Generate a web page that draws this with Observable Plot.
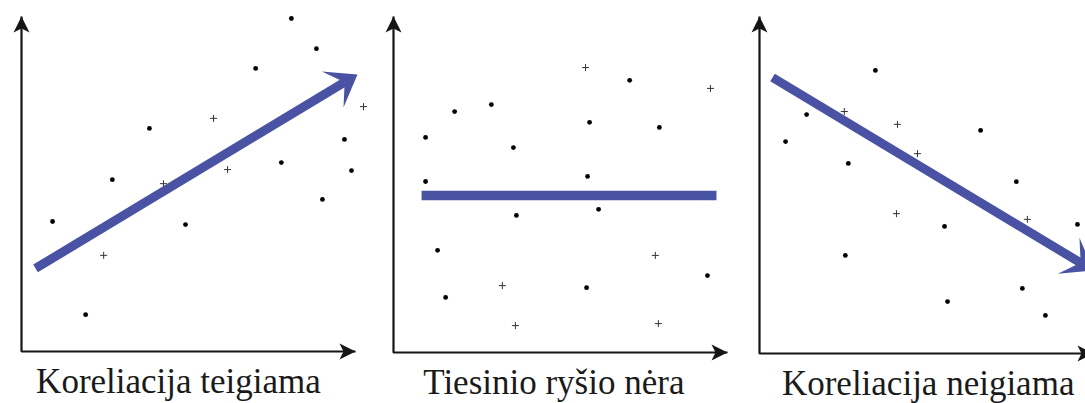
<!DOCTYPE html>
<html>
<head>
<meta charset="utf-8">
<script src="https://cdn.jsdelivr.net/npm/d3@7"></script>
<script src="https://cdn.jsdelivr.net/npm/@observablehq/plot@0.6"></script>
<style>
  html, body { margin: 0; padding: 0; background: #ffffff; }
  #chart { position: relative; width: 1085px; height: 403px; overflow: hidden; background: #fff; }
  #chart svg { position: absolute; top: 0; overflow: hidden; }
</style>
</head>
<body>
<div id="chart"></div>
<script>
// ---------- data (units: 0..100 along each axis, origin at the axes corner) ----------
const panelLabels = ["Koreliacija teigiama", "Tiesinio ryšio nėra", "Koreliacija neigiama"];
const labelX = [47, 48, 50.5];

// Panel 1: positive correlation
const dotsPositive = [
  [80.8, 99.4], [88.3, 90.4], [70.1, 84.5], [38.3, 66.6], [96.7, 63.3], [77.8, 56.4],
  [98.8, 54.0], [27.2, 51.3], [90.1, 45.4], [9.3, 38.8], [49.1, 37.9], [19.2, 11.0]
];
const crossesPositive = [[102.4, 73.1], [57.5, 69.6], [61.7, 54.3], [42.5, 50.1], [24.6, 28.7]];
const trendPositive = [4.2, 24.8, 100.6, 82.7];

// Panel 2: no linear relationship
const dotsNone = [
  [9.6, 64.0], [18.3, 71.7], [29.3, 73.8], [35.9, 61.0], [9.6, 50.9], [58.7, 68.5],
  [70.7, 81.0], [79.6, 67.0], [58.1, 52.4], [36.8, 40.8], [61.4, 42.6], [13.2, 30.4],
  [15.6, 16.4], [57.8, 19.3], [94.0, 22.9]
];
const crossesNone = [[57.5, 84.8], [94.9, 78.6], [78.4, 28.9], [32.6, 19.9], [36.5, 8.0], [79.3, 8.6]];
const trendNone = [8.4, 46.7, 96.7, 46.7];

// Panel 3: negative correlation
const dotsNegative = [
  [34.7, 84.0], [14.1, 70.9], [7.8, 62.9], [26.6, 56.4], [66.2, 66.2], [76.9, 51.0],
  [55.4, 37.7], [95.2, 38.3], [25.7, 29.1], [78.7, 19.3], [56.3, 15.4], [85.6, 11.3]
];
const crossesNegative = [[25.4, 71.8], [41.3, 68.0], [47.3, 59.3], [41.0, 41.5], [80.2, 39.8]];
const trendNegative = [3.9, 81.9, 100.0, 24.6];

const trendHasHead = [true, false, true];
const axisCorner = [[0, 100], [0, 0], [100, 0]];

// ---------- styling / layout ----------
const BLUE = "#4a53a3";
const INK = "#151515";
const H = 403;
const layouts = [
  {left: 0,   width: 372, mL: 21, mR: 17, mT: 16, mB: 52},
  {left: 372, width: 369, mL: 21, mR: 14, mT: 16, mB: 51},
  {left: 741, width: 344, mL: 18, mR: -8, mT: 16, mB: 50}
];

// Arrowhead symbol: tip at the dot position, pointing along screen unit vector (ux, uy)
function headSymbol(ux, uy, len, half, notch) {
  const nx = -uy, ny = ux;
  return {
    draw(ctx) {
      ctx.moveTo(0, 0);
      ctx.lineTo(-len * ux + half * nx, -len * uy + half * ny);
      ctx.lineTo(-notch * ux, -notch * uy);
      ctx.lineTo(-len * ux - half * nx, -len * uy - half * ny);
      ctx.closePath();
    }
  };
}

const panels = [
  {dots: dotsPositive, crosses: crossesPositive, trend: trendPositive},
  {dots: dotsNone, crosses: crossesNone, trend: trendNone},
  {dots: dotsNegative, crosses: crossesNegative, trend: trendNegative}
];

const container = document.getElementById("chart");

panels.forEach((p, i) => {
  const L = layouts[i];
  const kx = (L.width - L.mL - L.mR) / 100;
  const ky = (H - L.mT - L.mB) / 100;
  const [x1, y1, x2, y2] = p.trend;
  const marks = [];

  // axes (L shape) with arrowheads
  marks.push(Plot.line(axisCorner, {x: d => d[0], y: d => d[1], stroke: INK, strokeWidth: 2.2, strokeLinejoin: "miter", strokeLinecap: "butt"}));
  marks.push(Plot.dot([[0, 100]], {x: d => d[0], y: d => d[1], symbol: headSymbol(0, -1, 16, 8, 12), r: 5, fill: INK, stroke: "none"}));
  marks.push(Plot.dot([[100, 0]], {x: d => d[0], y: d => d[1], symbol: headSymbol(1, 0, 16, 8, 12), r: 5, fill: INK, stroke: "none"}));

  // scatter
  marks.push(Plot.dot(p.crosses, {x: d => d[0], y: d => d[1], symbol: "plus", r: 2.4, stroke: "#333", strokeWidth: 1}));
  marks.push(Plot.dot(p.dots, {x: d => d[0], y: d => d[1], r: 2.4, fill: "#000", stroke: "none"}));

  // trend
  if (trendHasHead[i]) {
    let sx = (x2 - x1) * kx, sy = -(y2 - y1) * ky;
    const len = Math.hypot(sx, sy); const ux = sx / len, uy = sy / len;
    const notch = 15;
    const ex = x2 - notch * ux / kx, ey = y2 + notch * uy / ky;
    marks.push(Plot.link([{x1, y1, x2: ex, y2: ey}], {x1: "x1", y1: "y1", x2: "x2", y2: "y2", stroke: BLUE, strokeWidth: 9, strokeLinecap: "butt"}));
    marks.push(Plot.dot([[x2, y2]], {x: d => d[0], y: d => d[1], symbol: headSymbol(ux, uy, 29, 21, notch), r: 10, fill: BLUE, stroke: "none"}));
  } else {
    marks.push(Plot.link([{x1, y1, x2, y2}], {x1: "x1", y1: "y1", x2: "x2", y2: "y2", stroke: BLUE, strokeWidth: 9.5, strokeLinecap: "butt"}));
  }

  // label
  marks.push(Plot.text([{label: panelLabels[i], x: labelX[i]}], {
    x: "x", text: "label", frameAnchor: "bottom", lineAnchor: "bottom", dy: 41,
    fontSize: 35, fontFamily: "Liberation Serif", fill: "#1a1a1a"
  }));

  const svg = Plot.plot({
    width: L.width,
    height: H,
    marginLeft: L.mL, marginRight: L.mR, marginTop: L.mT, marginBottom: L.mB,
    x: {domain: [0, 100], axis: null},
    y: {domain: [0, 100], axis: null},
    marks
  });
  svg.style.left = L.left + "px";
  svg.style.background = "transparent";
  container.appendChild(svg);
});
</script>
</body>
</html>
